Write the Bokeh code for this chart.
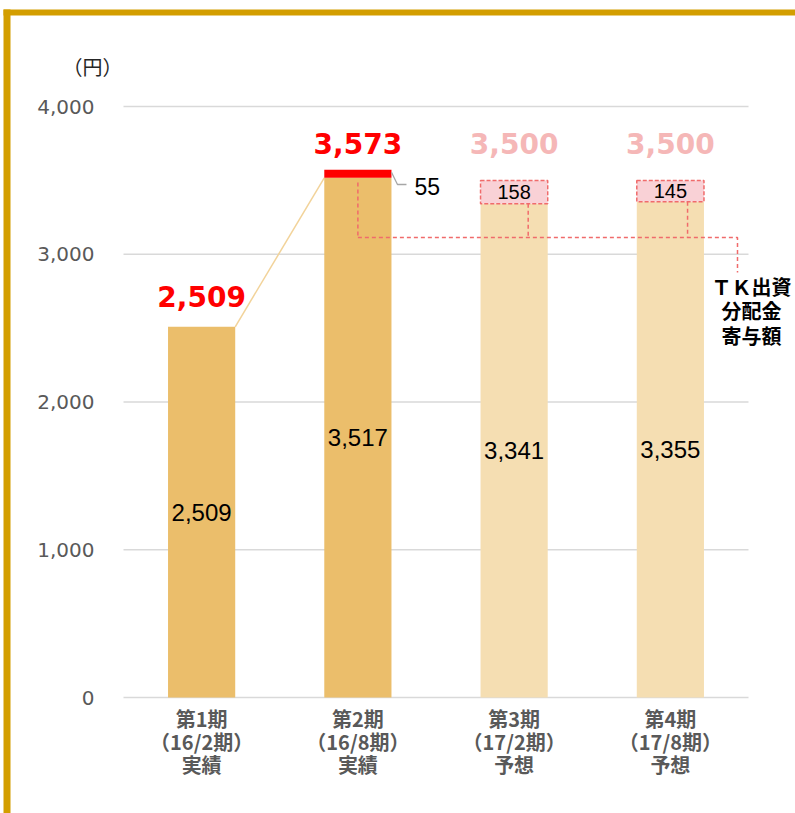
from bokeh.plotting import figure
from bokeh.models import (Range1d, FixedTicker, NumeralTickFormatter, LinearAxis,
                          ColumnDataSource)
from bokeh.core.properties import value
from bokeh.embed import file_html
from bokeh.resources import INLINE

# ---------------- data ----------------
categories = ["第1期\n（16/2期）\n実績", "第2期\n（16/8期）\n実績",
              "第3期\n（17/2期）\n予想", "第4期\n（17/8期）\n予想"]
base_values = [2509, 3517, 3341, 3355]        # 分配金 (TK寄与除く)
tk_values = [0, 55, 158, 145]                 # TK出資分配金寄与額
total_values = [2509, 3573, 3500, 3500]       # 1口当たり分配金
is_forecast = [False, False, True, True]
y_ticks = [0, 1000, 2000, 3000, 4000]
unit_label = "（円）"
tk_label = "ＴＫ出資\n分配金\n寄与額"

# ---------------- layout (picture px) ----------------
PAGE_OFF = 0
W, H = 795, 813                   # figure size
FL, FR, FT, FB = 123, 748, 106, 697   # plotting area of the chart (px)
N = len(categories)
YMAX = 4000


def ux(px):
    return (px - FL) / (FR - FL) * N


def uy(py):
    return (FB - py) / (FB - FT) * YMAX


BW = 0.43
xs = [i + 0.5 for i in range(N)]

GOLD = "#D39E00"
BAR_ACT = "#EBBE6B"
BAR_FC = "#F5DEB2"
RED = "#FF0000"
PINK_FILL = "#F9D1D6"
PINK_LINE = "#F06B6B"
PINK_TEXT = "#F5B7B7"
GRID = "#D9D9D9"
AXIS_TXT = "#595959"

p = figure(width=W, height=H,
           x_range=Range1d(ux(PAGE_OFF), ux(PAGE_OFF + W)),
           y_range=Range1d(uy(PAGE_OFF + H), uy(PAGE_OFF)),
           output_backend="svg", toolbar_location=None,
           x_axis_location=None, y_axis_location=None,
           min_border=0)
p.outline_line_color = None
p.background_fill_color = "white"
p.border_fill_color = "white"
p.grid.visible = False

# gridlines (bounded to the chart area)
p.segment(x0=[0] * len(y_ticks), x1=[N] * len(y_ticks), y0=y_ticks, y1=y_ticks,
          line_color=GRID, line_width=1.5)

# axes (drawn inside the canvas at fixed locations)
xaxis = LinearAxis(fixed_location=0, ticker=FixedTicker(ticks=xs),
                   major_label_overrides={x: c for x, c in zip(xs, categories)})
xaxis.major_label_text_font = "Noto Sans CJK JP"
xaxis.major_label_text_font_style = "bold"
xaxis.major_label_text_font_size = "20px"
xaxis.major_label_text_line_height = 0.81
xaxis.major_label_text_color = AXIS_TXT
xaxis.major_label_standoff = 0
xaxis.major_tick_line_color = None
xaxis.minor_tick_line_color = None
xaxis.axis_line_color = None
p.add_layout(xaxis, "below")

yaxis = LinearAxis(fixed_location=0, ticker=FixedTicker(ticks=y_ticks),
                   formatter=NumeralTickFormatter(format="0,0"))
yaxis.major_label_text_font = "DejaVu Sans"
yaxis.major_label_text_font_size = "20px"
yaxis.major_label_text_color = AXIS_TXT
yaxis.major_label_standoff = 23
yaxis.major_tick_line_color = None
yaxis.minor_tick_line_color = None
yaxis.axis_line_color = None
p.add_layout(yaxis, "left")

# connector line bar1 -> bar2
p.line(x=[xs[0] + BW / 2, xs[1] - BW / 2], y=[base_values[0], base_values[1]],
       line_color="#F2D39A", line_width=1.5)

# base bars
src = ColumnDataSource(dict(
    x=xs, top=base_values,
    color=[BAR_FC if f else BAR_ACT for f in is_forecast],
    mid=[b / 2 for b in base_values],
    lab=[f"{b:,}" for b in base_values],
))
p.vbar(x="x", top="top", width=BW, source=src, fill_color="color", line_color=None)

# TK contributions
act_idx = [i for i in range(N) if tk_values[i] > 0 and not is_forecast[i]]
fc_idx = [i for i in range(N) if tk_values[i] > 0 and is_forecast[i]]
p.vbar(x=[xs[i] for i in act_idx], bottom=[base_values[i] for i in act_idx],
       top=[base_values[i] + tk_values[i] for i in act_idx], width=BW,
       fill_color=RED, line_color=None)
p.vbar(x=[xs[i] for i in fc_idx], bottom=[base_values[i] for i in fc_idx],
       top=[base_values[i] + tk_values[i] for i in fc_idx], width=BW,
       fill_color=PINK_FILL, line_color=PINK_LINE, line_dash="4 2", line_width=1.5)

# inner labels
p.text(x="x", y="mid", text="lab", source=src, text_align="center",
       text_baseline="middle", text_font=value("Liberation Sans"),
       text_font_size="24px", text_color="black")

# TK labels in forecast boxes
p.text(x=[xs[i] for i in fc_idx],
       y=[base_values[i] + tk_values[i] / 2 for i in fc_idx],
       text=[str(tk_values[i]) for i in fc_idx], text_align="center",
       text_baseline="middle", text_font=value("Liberation Sans"),
       text_font_size="20px", text_color="black")

# "55" with leader line
for i in act_idx:
    ytop = base_values[i] + tk_values[i] / 2
    xe = xs[i] + BW / 2
    p.line(x=[xe, xe + ux(FL + 6), xe + ux(FL + 15)],
           y=[ytop + 10, uy(184), uy(184)],
           line_color="#A6A6A6", line_width=1.3)
    p.text(x=[xe + ux(FL + 23)], y=[uy(186)], text=[str(tk_values[i])],
           text_align="left", text_baseline="middle",
           text_font=value("Liberation Sans"), text_font_size="23px",
           text_color="black")

# total labels on top
top_src = ColumnDataSource(dict(
    x=xs, y=[b + t for b, t in zip(base_values, tk_values)],
    lab=[f"{v:,}" for v in total_values],
    color=[PINK_TEXT if f else RED for f in is_forecast],
    off=[-30, -26, -37, -37],
))
p.text(x="x", y="y", text="lab", y_offset="off", source=top_src,
       text_align="center", text_baseline="middle",
       text_font=value("DejaVu Sans"), text_font_style="bold",
       text_font_size="28px", text_color="color")

# dashed bracket linking TK contributions
yb = uy(237)
xr = ux(737)
dash = dict(line_color=PINK_LINE, line_dash="4 3", line_width=1.5)
p.line(x=[xs[1], xs[1]], y=[uy(182), yb], **dash)
p.line(x=[xs[2] + 0.09, xs[2] + 0.09], y=[base_values[2], yb], **dash)
p.line(x=[xs[3] + 0.11, xs[3] + 0.11], y=[base_values[3], yb], **dash)
p.line(x=[xs[1], xr, xr], y=[yb, yb, uy(272)], **dash)

# TK label
p.text(x=[ux(751)], y=[uy(271)], text=[tk_label], text_align="center",
       text_baseline="top", text_font=value("Noto Sans CJK JP"),
       text_font_style="bold", text_font_size="20px",
       text_line_height=0.85, text_color="black")

# unit label
p.text(x=[ux(92)], y=[uy(66)], text=[unit_label], text_align="center",
       text_baseline="middle", text_font=value("Noto Sans CJK JP"),
       text_font_size="20px", text_color="#262626")

# gold frame (left and top edges)
p.quad(left=[ux(3), ux(3)], right=[ux(10), ux(PAGE_OFF + W + 20)],
       top=[uy(9), uy(9)], bottom=[uy(PAGE_OFF + H + 20), uy(15)],
       fill_color=GOLD, line_color=None)

open("out.html", "w").write(file_html(p, INLINE))
